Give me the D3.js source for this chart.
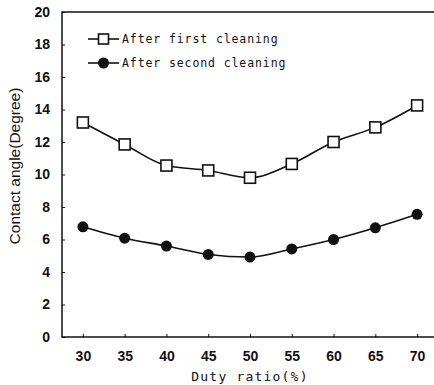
<!DOCTYPE html>
<html>
<head>
<meta charset="utf-8">
<script src="https://cdn.jsdelivr.net/npm/d3@7"></script>
<style>
  body { margin: 0; background: #fff; }
  svg { display: block; }
</style>
</head>
<body>
<div id="chart"></div>
<script>
// data
const dutyRatio = [30, 35, 40, 45, 50, 55, 60, 65, 70];
const firstCleaning = [13.2, 11.85, 10.55, 10.25, 9.8, 10.65, 12.0, 12.9, 14.25];
const secondCleaning = [6.78, 6.08, 5.6, 5.08, 4.92, 5.42, 6.0, 6.72, 7.55];
const yTicks = [0, 2, 4, 6, 8, 10, 12, 14, 16, 18, 20];
const seriesNames = ['After first cleaning', 'After second cleaning'];

// dimensions
const W = 434;
const H = 385;
const margin = { top: 12, right: -4, bottom: 48, left: 62 };
const width = W - margin.left - margin.right;
const height = H - margin.top - margin.bottom;

const svg = d3.select('#chart').append('svg')
  .attr('width', W)
  .attr('height', H);

const g = svg.append('g')
  .attr('transform', `translate(${margin.left}, ${margin.top})`);

const x = d3.scaleLinear().domain([27.5, 72.5]).range([0, width]);
const y = d3.scaleLinear().domain([0, 20]).range([height, 0]);

const tickFont = '"Liberation Sans", Arial, sans-serif';
const monoFont = '"DejaVu Sans Mono", monospace';

// frame
g.append('rect')
  .attr('width', width)
  .attr('height', height)
  .attr('fill', 'none')
  .attr('stroke', '#111')
  .attr('stroke-width', 1.5);

// y axis ticks (inward) + labels
const yAxis = g.append('g')
  .call(d3.axisLeft(y).tickValues(yTicks).tickSize(-3).tickPadding(12).tickFormat(d3.format('d')));
yAxis.select('.domain').remove();
yAxis.selectAll('line').attr('stroke', '#111').attr('stroke-width', 1);
yAxis.selectAll('text')
  .attr('font-family', tickFont)
  .attr('font-size', 14)
  .attr('font-weight', 600)
  .attr('fill', '#111');

// x axis ticks (inward) + labels
const xAxis = g.append('g')
  .attr('transform', `translate(0, ${height})`)
  .call(d3.axisBottom(x).tickValues(dutyRatio).tickSize(-3).tickPadding(14).tickFormat(d3.format('d')));
xAxis.select('.domain').remove();
xAxis.selectAll('line').attr('stroke', '#111').attr('stroke-width', 1);
xAxis.selectAll('text')
  .attr('font-family', tickFont)
  .attr('font-size', 14)
  .attr('font-weight', 600)
  .attr('fill', '#111');

// axis titles
svg.append('text')
  .attr('x', 250)
  .attr('y', 381)
  .attr('text-anchor', 'middle')
  .attr('font-family', monoFont)
  .attr('font-size', 13)
  .attr('letter-spacing', 1.2)
  .attr('fill', '#111')
  .text('Duty ratio(%)');

svg.append('text')
  .attr('transform', 'translate(20, 166) rotate(-90)')
  .attr('text-anchor', 'middle')
  .attr('font-family', tickFont)
  .attr('font-size', 15.5)
  .attr('font-weight', 500)
  .attr('fill', '#111')
  .text('Contact angle(Degree)');

// lines
const line = d3.line()
  .x((d, i) => x(dutyRatio[i]))
  .y((d) => y(d))
  .curve(d3.curveMonotoneX);

g.append('path')
  .datum(firstCleaning)
  .attr('fill', 'none')
  .attr('stroke', '#111')
  .attr('stroke-width', 1.6)
  .attr('d', line);

g.append('path')
  .datum(secondCleaning)
  .attr('fill', 'none')
  .attr('stroke', '#111')
  .attr('stroke-width', 1.6)
  .attr('d', line);

// markers
const sq = 11;
g.selectAll('.sq')
  .data(firstCleaning)
  .enter().append('rect')
  .attr('class', 'sq')
  .attr('x', (d, i) => x(dutyRatio[i]) - sq / 2)
  .attr('y', (d) => y(d) - sq / 2)
  .attr('width', sq)
  .attr('height', sq)
  .attr('fill', '#fff')
  .attr('stroke', '#111')
  .attr('stroke-width', 1.6);

g.selectAll('.dot')
  .data(secondCleaning)
  .enter().append('circle')
  .attr('class', 'dot')
  .attr('cx', (d, i) => x(dutyRatio[i]))
  .attr('cy', (d) => y(d))
  .attr('r', 5.5)
  .attr('fill', '#111');

// legend
const legend = svg.append('g').attr('transform', 'translate(88, 39)');
seriesNames.forEach((name, i) => {
  const row = legend.append('g').attr('transform', `translate(0, ${i * 24})`);
  row.append('line')
    .attr('x1', 0).attr('x2', 31)
    .attr('stroke', '#111')
    .attr('stroke-width', 1.6);
  if (i === 0) {
    row.append('rect')
      .attr('x', 15.5 - 5).attr('y', -5)
      .attr('width', 10).attr('height', 10)
      .attr('fill', '#fff')
      .attr('stroke', '#111')
      .attr('stroke-width', 1.6);
  } else {
    row.append('circle')
      .attr('cx', 15.5).attr('r', 5.5)
      .attr('fill', '#111');
  }
  row.append('text')
    .attr('x', 34)
    .attr('y', 4)
    .attr('font-family', monoFont)
    .attr('font-size', 11.5)
    .attr('letter-spacing', 0.9)
    .attr('fill', '#111')
    .text(name);
});
</script>
</body>
</html>
